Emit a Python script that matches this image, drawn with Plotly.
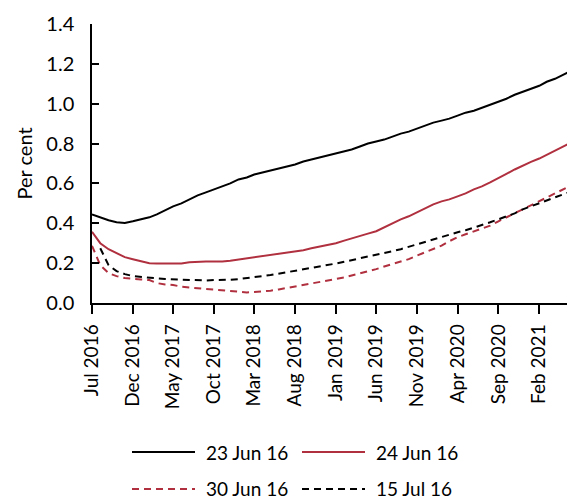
import pandas as pd
import plotly.graph_objects as go

months = pd.date_range("2016-07-01", periods=60, freq="MS")

series_names = ["23 Jun 16", "24 Jun 16", "30 Jun 16", "15 Jul 16"]

jun23 = [0.445, 0.43, 0.415, 0.405, 0.402, 0.41, 0.42, 0.43, 0.445, 0.465,
         0.485, 0.50, 0.52, 0.54, 0.555, 0.57, 0.585, 0.60, 0.62, 0.63,
         0.645, 0.655, 0.665, 0.675, 0.685, 0.695, 0.71, 0.72, 0.73, 0.74,
         0.75, 0.76, 0.77, 0.785, 0.80, 0.81, 0.82, 0.835, 0.85, 0.86,
         0.875, 0.89, 0.905, 0.915, 0.925, 0.94, 0.955, 0.965, 0.98, 0.995,
         1.01, 1.025, 1.045, 1.06, 1.075, 1.09, 1.11, 1.125, 1.145, 1.165]

jun24 = [0.357, 0.30, 0.27, 0.25, 0.23, 0.22, 0.21, 0.20, 0.198, 0.198,
         0.198, 0.198, 0.205, 0.208, 0.208, 0.208, 0.208, 0.212, 0.218, 0.222,
         0.226, 0.232, 0.238, 0.245, 0.25, 0.258, 0.265, 0.275, 0.283, 0.292,
         0.30, 0.313, 0.325, 0.338, 0.348, 0.36, 0.38, 0.398, 0.42, 0.435,
         0.455, 0.475, 0.495, 0.51, 0.52, 0.535, 0.55, 0.57, 0.585, 0.605,
         0.625, 0.648, 0.67, 0.69, 0.708, 0.725, 0.745, 0.765, 0.785, 0.805]

jun30 = [0.287, 0.19, 0.15, 0.135, 0.125, 0.12, 0.118, 0.115, 0.10, 0.093,
         0.09, 0.082, 0.077, 0.073, 0.07, 0.067, 0.064, 0.06, 0.055, 0.053,
         0.055, 0.058, 0.062, 0.068, 0.075, 0.082, 0.09, 0.098, 0.105, 0.11,
         0.118, 0.128, 0.138, 0.148, 0.158, 0.17, 0.183, 0.195, 0.205, 0.22,
         0.238, 0.255, 0.272, 0.288, 0.31, 0.33, 0.345, 0.36, 0.372, 0.388,
         0.41, 0.43, 0.45, 0.47, 0.49, 0.51, 0.53, 0.55, 0.57, 0.59]

jul15 = [None, 0.275, 0.19, 0.16, 0.145, 0.135, 0.13, 0.127, 0.124, 0.12,
         0.118, 0.116, 0.114, 0.113, 0.113, 0.115, 0.115, 0.117, 0.12, 0.124,
         0.13, 0.135, 0.14, 0.147, 0.153, 0.16, 0.168, 0.176, 0.183, 0.19,
         0.198, 0.207, 0.215, 0.223, 0.23, 0.24, 0.25, 0.26, 0.27, 0.282,
         0.295, 0.308, 0.32, 0.332, 0.345, 0.355, 0.365, 0.378, 0.39, 0.405,
         0.42, 0.435, 0.45, 0.47, 0.485, 0.50, 0.515, 0.53, 0.545, 0.56]

tick_dates = ["2016-07-01", "2016-12-01", "2017-05-01", "2017-10-01", "2018-03-01",
              "2018-08-01", "2019-01-01", "2019-06-01", "2019-11-01", "2020-04-01",
              "2020-09-01", "2021-02-01"]
tick_labels = ["Jul 2016", "Dec 2016", "May 2017", "Oct 2017", "Mar 2018",
               "Aug 2018", "Jan 2019", "Jun 2019", "Nov 2019", "Apr 2020",
               "Sep 2020", "Feb 2021"]

RED = "#B0303F"
styles = [("black", "solid"), (RED, "solid"), (RED, "7px,5px"), ("black", "7px,5px")]
values = [jun23, jun24, jun30, jul15]

FONT = "Lato"

fig = go.Figure()
for name, vals, (col, dash) in zip(series_names, values, styles):
    fig.add_trace(go.Scatter(x=months, y=vals, mode="lines", name=name,
                             line=dict(color=col, width=2, dash=dash),
                             showlegend=False))

# page body has an 8px margin; figure sized to fit the window
OFF = 8
W, H = 567, 495
ml, mr, mt, mb = 84, 0, 16, 200
pw, ph = W - ml - mr, H - mt - mb


def px2paper(px, py):
    # px, py in window pixels
    return (px - OFF - ml) / pw, (H - mb - (py - OFF)) / ph


# custom legend (two rows, two columns)
legend_pos = [(132, 452), (302, 452), (132, 489), (302, 489)]
shapes = []
annotations = []
for name, (col, dash), (lx, ly) in zip(series_names, styles, legend_pos):
    x0, y0 = px2paper(lx, ly)
    x1, _ = px2paper(lx + 63, ly)
    shapes.append(dict(type="line", xref="paper", yref="paper", x0=x0, x1=x1,
                       y0=y0, y1=y0, line=dict(color=col, width=2, dash=dash)))
    tx, _ = px2paper(lx + 72, ly)
    annotations.append(dict(text=name, xref="paper", yref="paper", x=tx, y=y0,
                            xanchor="left", yanchor="middle", showarrow=False,
                            font=dict(family=FONT, size=19, color="black")))

fig.update_layout(
    width=W, height=H,
    margin=dict(l=ml, r=mr, t=mt, b=mb),
    paper_bgcolor="white", plot_bgcolor="white",
    font=dict(family=FONT, size=18, color="black"),
    shapes=shapes, annotations=annotations,
    showlegend=False,
)
fig.update_xaxes(
    range=["2016-07-01", "2021-06-15"],
    tickvals=tick_dates, ticktext=tick_labels, tickangle=-90,
    ticks="outside", ticklen=9, tickwidth=1.5, tickcolor="black",
    showline=True, linecolor="black", linewidth=1.5,
    showgrid=False, zeroline=False, ticklabelstandoff=3,
    tickfont=dict(family=FONT, size=19, color="black"),
)
fig.update_yaxes(
    range=[0, 1.4], dtick=0.2, tickformat=".1f",
    ticks="inside", ticklen=7, tickwidth=1.5, tickcolor="black",
    showline=True, linecolor="black", linewidth=1.5,
    showgrid=False, zeroline=False, ticklabelstandoff=12,
    title=dict(text="Per cent", font=dict(family=FONT, size=20), standoff=8),
    tickfont=dict(family=FONT, size=20, color="black"),
)

fig.write_html("out.html")
